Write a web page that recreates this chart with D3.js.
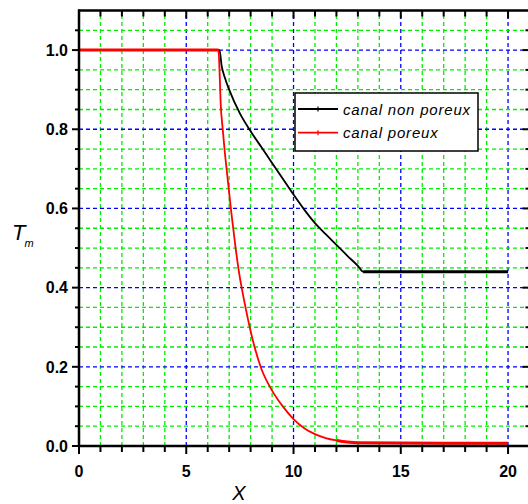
<!DOCTYPE html>
<html><head><meta charset="utf-8">
<script src="https://cdn.jsdelivr.net/npm/d3@7"></script>
<style>body{margin:0;background:#fff}svg{display:block}</style>
</head><body>
<svg id="c" width="528" height="504"></svg>
<script>
const xTicks=[0,5,10,15,20];
const yTicks=[0.0,0.2,0.4,0.6,0.8,1.0];
const xMinor=[0,1,2,3,4,5,6,7,8,9,10,11,12,13,14,15,16,17,18,19,20];
const yMinor=[0,0.05,0.1,0.15,0.2,0.25,0.3,0.35,0.4,0.45,0.5,0.55,0.6,0.65,0.7,0.75,0.8,0.85,0.9,0.95,1.0,1.05];
const seriesNames=["canal non poreux","canal poreux"];
const blackX=[0,6.55,6.65,6.8,7.0,7.5,8.0,8.5,9.0,9.5,10.0,10.5,11.0,11.5,12.0,12.5,13.0,13.25,20];
const blackY=[1.0,1.0,0.96,0.93,0.9,0.84,0.795,0.755,0.715,0.675,0.635,0.597,0.563,0.535,0.508,0.481,0.455,0.44,0.44];
const redX=[0,6.5,6.55,6.6,6.7,6.8,6.9,7.0,7.1,7.2,7.3,7.4,7.5,7.6,7.8,8.0,8.2,8.5,9.0,9.5,10.0,10.5,11.0,11.5,12.0,12.5,13.0,20];
const redY=[1.0,1.0,0.95,0.87,0.80,0.74,0.69,0.64,0.59,0.545,0.50,0.46,0.425,0.395,0.34,0.29,0.247,0.195,0.14,0.10,0.068,0.045,0.03,0.02,0.014,0.01,0.008,0.007];

const svg=d3.select("#c");
const x=d3.scaleLinear().domain([0,21]).range([79,529.5]);
const y=d3.scaleLinear().domain([0,1.1]).range([446,10.5]);
const isMajX=v=>v%5===0;
const isMajY=v=>Math.abs(Math.round(v*5)-v*5)<1e-6;

const g=svg.append("g");
// grid
xMinor.filter(v=>v>0).concat([21]).forEach(v=>{
  g.append("line").attr("x1",x(v)).attr("x2",x(v)).attr("y1",y(0)).attr("y2",y(1.1))
   .attr("stroke",isMajX(v)?"#0000ff":"#00ee00").attr("stroke-width",1.3).attr("stroke-dasharray","4,3");
});
yMinor.filter(v=>v>0).forEach(v=>{
  g.append("line").attr("x1",x(0)).attr("x2",x(21)).attr("y1",y(v)).attr("y2",y(v))
   .attr("stroke",isMajY(v)?"#0000ff":"#00ee00").attr("stroke-width",1.3).attr("stroke-dasharray","4,3");
});

const line=d3.line().x(d=>x(d[0])).y(d=>y(d[1])).curve(d3.curveMonotoneX);
const bd=blackX.map((v,i)=>[v,blackY[i]]);
const rd=redX.map((v,i)=>[v,redY[i]]);
g.append("path").attr("d",line(bd)).attr("fill","none").attr("stroke","#000").attr("stroke-width",1.8);
g.append("path").attr("d",line(bd.filter(d=>d[0]>=13.25))).attr("fill","none").attr("stroke","#000").attr("stroke-width",3);
g.append("path").attr("d",line(rd)).attr("fill","none").attr("stroke","#ff0000").attr("stroke-width",1.8);
g.append("path").attr("d",line(rd.filter(d=>d[0]<=6.5))).attr("fill","none").attr("stroke","#ff0000").attr("stroke-width",3);
g.append("path").attr("d",line(rd.filter(d=>d[0]>=12))).attr("fill","none").attr("stroke","#ff0000").attr("stroke-width",3);

// axes
const ax=svg.append("g").attr("stroke","#000");
ax.append("line").attr("x1",x(0)).attr("x2",x(0)).attr("y1",y(1.1)-1).attr("y2",y(0)+1).attr("stroke-width",2.5);
ax.append("line").attr("x1",x(0)-1).attr("x2",x(21)).attr("y1",y(0)).attr("y2",y(0)).attr("stroke-width",2.5);
ax.append("line").attr("x1",x(0)-1).attr("x2",x(21)).attr("y1",y(1.1)).attr("y2",y(1.1)).attr("stroke-width",2.5);
ax.append("line").attr("x1",x(21)).attr("x2",x(21)).attr("y1",y(1.1)).attr("y2",y(0)).attr("stroke-width",2.5);
xMinor.forEach(v=>{
  const L=isMajX(v)?8:6;
  ax.append("line").attr("x1",x(v)).attr("x2",x(v)).attr("y1",y(0)).attr("y2",y(0)+L).attr("stroke-width",2);
  ax.append("line").attr("x1",x(v)).attr("x2",x(v)).attr("y1",y(1.1)).attr("y2",y(1.1)+L).attr("stroke-width",2);
});
yMinor.forEach(v=>{
  const L=isMajY(v)?7:4;
  ax.append("line").attr("x1",x(0)-L).attr("x2",x(0)).attr("y1",y(v)).attr("y2",y(v)).attr("stroke-width",2);
  ax.append("line").attr("x1",x(21)-L).attr("x2",x(21)).attr("y1",y(v)).attr("y2",y(v)).attr("stroke-width",2);
});
const lab=svg.append("g").attr("font-family","Liberation Sans, Arial, sans-serif").attr("font-weight","bold").attr("font-size","16px").attr("fill","#000");
yTicks.forEach(v=>{
  lab.append("text").attr("x",68).attr("y",y(v)).attr("dy","0.36em").attr("text-anchor","end").text(v.toFixed(1));
});
xTicks.forEach(v=>{
  lab.append("text").attr("x",x(v)).attr("y",477).attr("text-anchor","middle").text(String(v));
});
svg.append("text").attr("x",239).attr("y",500).attr("text-anchor","middle").attr("font-family","Liberation Sans, Arial, sans-serif").attr("font-style","italic").attr("font-size","20px").text("X");
const tm=svg.append("text").attr("x",12).attr("y",240).attr("font-family","Liberation Sans, Arial, sans-serif").attr("font-style","italic").attr("font-size","22px");
tm.append("tspan").text("T");
tm.append("tspan").attr("font-size","11px").attr("dx","-1").attr("dy","7").text("m");

// legend
const lg=svg.append("g");
lg.append("rect").attr("x",295).attr("y",93).attr("width",183).attr("height",58).attr("fill","#fff").attr("stroke","#000").attr("stroke-width",1.5);
const cols=["#000","#ff0000"];
seriesNames.forEach((n,i)=>{
  const yy=109+i*23.7;
  lg.append("line").attr("x1",298).attr("x2",338).attr("y1",yy).attr("y2",yy).attr("stroke",cols[i]).attr("stroke-width",1.8);
  lg.append("line").attr("x1",318).attr("x2",318).attr("y1",yy-2.5).attr("y2",yy+2.5).attr("stroke",cols[i]).attr("stroke-width",1.2);
  lg.append("text").attr("x",343).attr("y",yy+5.5).attr("font-family","Liberation Sans, Arial, sans-serif").attr("font-style","italic").attr("font-size","15px").attr("letter-spacing","0.8px").text(n);
});
</script>
</body></html>
